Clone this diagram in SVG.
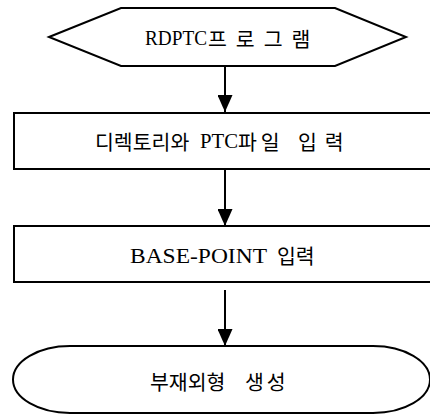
<svg xmlns="http://www.w3.org/2000/svg" width="430" height="414" viewBox="0 0 430 414">
<style>
.s{fill:#fff;stroke:#000;stroke-width:2}
.t{font-family:"Liberation Serif","Noto Sans CJK KR",serif;font-size:20px;fill:#000;dominant-baseline:central}
.k{font-family:"Noto Sans CJK KR","Liberation Sans",sans-serif;font-size:20.5px}
.c{stroke:#000;stroke-width:2;fill:none}
</style>
<defs>
<marker id="ad" viewBox="0 0 17 15" markerWidth="17" markerHeight="15" refX="17" refY="7.5" orient="auto" markerUnits="userSpaceOnUse">
<path d="M0,0 L17,7.5 L0,15 Z" fill="#000"/>
</marker>
</defs>
<g id="connectors">
<line class="c" x1="225" y1="66" x2="225" y2="112" marker-end="url(#ad)"/>
<line class="c" x1="225" y1="169" x2="225" y2="226" marker-end="url(#ad)"/>
<line class="c" x1="225" y1="290" x2="225" y2="346" marker-end="url(#ad)"/>
</g>
<g id="start">
<polygon class="s" points="49,37 121,8 335,8 406,37 335,66 121,66"/>
<text class="t" y="38"><tspan x="145" textLength="62" lengthAdjust="spacingAndGlyphs">RDPTC</tspan><tspan class="k" x="208" font-size="21" letter-spacing="9">프로그램</tspan></text>
</g>
<g id="input-dir">
<rect class="s" x="14" y="113" width="420" height="56"/>
<text class="t" y="141"><tspan class="k" x="95">디렉토리와</tspan> <tspan x="200" textLength="38" lengthAdjust="spacingAndGlyphs">PTC</tspan><tspan class="k" x="238" letter-spacing="4">파일</tspan> <tspan class="k" x="298" font-size="22" letter-spacing="8">입력</tspan></text>
</g>
<g id="input-base">
<rect class="s" x="14" y="226" width="420" height="56"/>
<text class="t" y="255"><tspan x="130" font-size="22" textLength="137" lengthAdjust="spacingAndGlyphs">BASE-POINT</tspan> <tspan class="k" x="277" font-size="19">입력</tspan></text>
</g>
<g id="end">
<path class="s" d="M70,346 H373 A57,33.5 0 0 1 373,413 H70 A57,33.5 0 0 1 70,346 Z"/>
<text class="t" y="381"><tspan class="k" x="150">부재외형</tspan> <tspan class="k" x="245" font-size="22" letter-spacing="3">생성</tspan></text>
</g>
</svg>
